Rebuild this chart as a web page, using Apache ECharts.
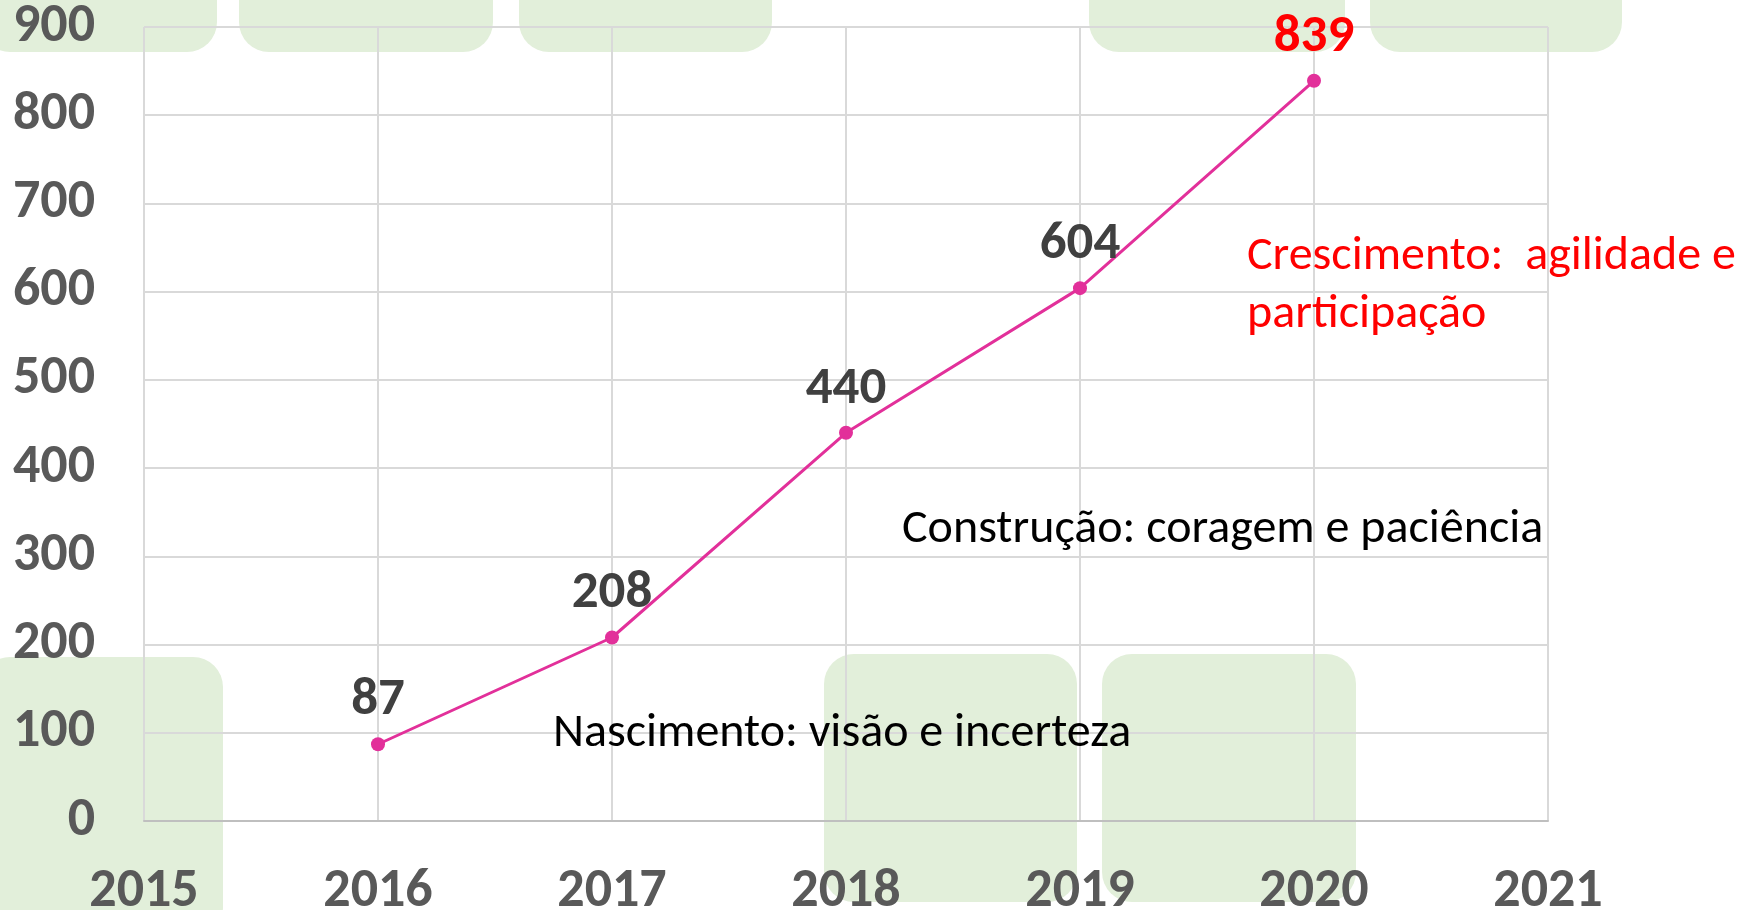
<!DOCTYPE html>
<html>
<head>
<meta charset="utf-8">
<script src="https://cdn.jsdelivr.net/npm/echarts@6/dist/echarts.min.js"></script>
<style>
  html, body { margin: 0; padding: 0; background: #fff; }
  #chart { width: 1746px; height: 910px; }
</style>
</head>
<body>
<div id="chart"></div>
<script>
  const years = [2016, 2017, 2018, 2019, 2020];
  const members = [87, 208, 440, 604, 839];
  const yTicks = [0, 900, 100];   // min, max, step
  const xRange = [2015, 2021];
  const notes = [
    'Nascimento: visão e incerteza',
    'Construção: coragem e paciência',
    'Crescimento:  agilidade e\nparticipação'
  ];

  const fontNarrow = "Carlito, 'Liberation Sans Narrow', 'DejaVu Sans Condensed', sans-serif";
  const green = '#e2efda';

  const chart = echarts.init(document.getElementById('chart'));

  // caixas verdes de fundo (decoração)
  const boxes = [
    [-20, -30, 237, 82], [239, -30, 254, 82], [519, -30, 253, 82],
    [1089, -30, 256, 82], [1370, -30, 252, 82],
    [-20, 657, 243, 280], [824, 654, 253, 248], [1102, 654, 254, 248]
  ];
  const bg = boxes.map(function (b) {
    return {
      type: 'rect', z: -10, silent: true,
      shape: { x: b[0], y: b[1], width: b[2], height: b[3], r: 30 },
      style: { fill: green }
    };
  });

  const option = {
    backgroundColor: '#fff',
    animation: false,
    grid: { left: 144, right: 198, top: 27, bottom: 89, outerBoundsMode: 'none', containLabel: false },
    xAxis: {
      type: 'value',
      min: xRange[0], max: xRange[1], interval: 1,
      axisLine: { show: true, lineStyle: { color: '#bfbfbf', width: 2 } },
      axisTick: { show: false },
      splitLine: { show: true, lineStyle: { color: '#d9d9d9', width: 2 } },
      axisLabel: {
        margin: 44, color: '#595959', fontSize: 54, fontWeight: 'bold',
        fontFamily: fontNarrow,
        formatter: function (v) { return String(v); }
      }
    },
    yAxis: {
      type: 'value',
      min: yTicks[0], max: yTicks[1], interval: yTicks[2],
      axisLine: { show: false },
      axisTick: { show: false },
      splitLine: { lineStyle: { color: '#d9d9d9', width: 2 } },
      axisLabel: {
        margin: 49, color: '#595959', fontSize: 54, fontWeight: 'bold',
        fontFamily: fontNarrow
      }
    },
    graphic: bg.concat([
      {
        type: 'text', left: 553, top: 710, z: 10,
        style: { text: notes[0], fill: '#000', font: '48px ' + fontNarrow }
      },
      {
        type: 'text', left: 902, top: 506, z: 10,
        style: { text: notes[1], fill: '#000', font: '48px ' + fontNarrow }
      },
      {
        type: 'text', left: 1247, top: 228, z: 10,
        style: { text: notes[2], fill: '#ff0000', font: '48px ' + fontNarrow, lineHeight: 58 }
      }
    ]),
    series: [{
      type: 'line',
      data: years.map(function (y, i) { return [y, members[i]]; }),
      symbol: 'circle',
      symbolSize: 14,
      lineStyle: { color: '#e2309a', width: 3 },
      itemStyle: { color: '#e2309a' },
      label: {
        show: true, position: 'top', distance: 10,
        color: '#404040', fontSize: 53, fontWeight: 'bold', fontFamily: fontNarrow,
        formatter: function (p) { return p.value[1]; }
      },
      emphasis: { disabled: true }
    }]
  };
  // último valor em vermelho
  option.series[0].data[members.length - 1] = {
    value: [years[members.length - 1], members[members.length - 1]],
    label: { color: '#ff0000' }
  };

  chart.setOption(option);
  window.addEventListener('resize', function () { chart.resize(); });
</script>
</body>
</html>
